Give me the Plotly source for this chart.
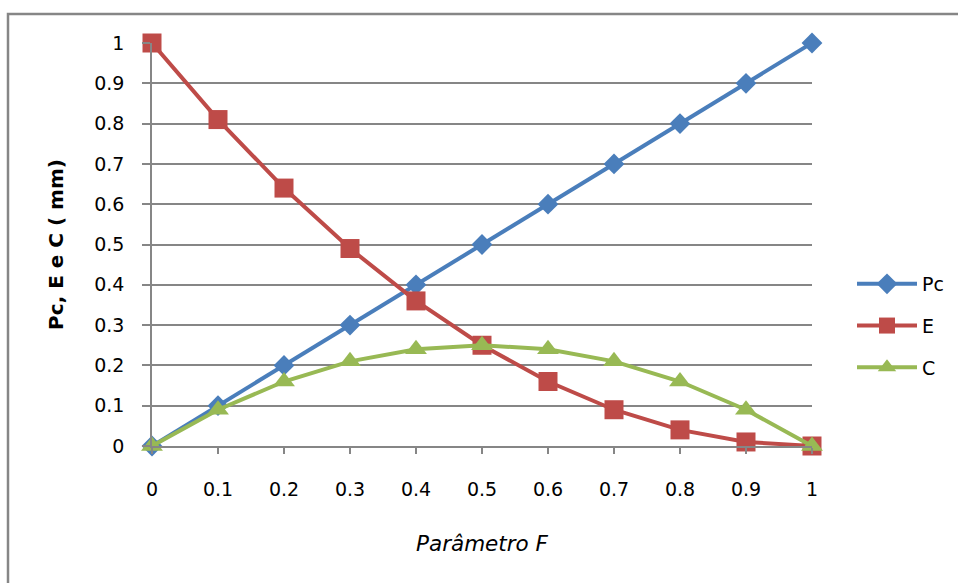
import plotly.graph_objects as go

# Parameter F and the three curves (mm)
f_values = [0, 0.1, 0.2, 0.3, 0.4, 0.5, 0.6, 0.7, 0.8, 0.9, 1]
pc_values = [0, 0.1, 0.2, 0.3, 0.4, 0.5, 0.6, 0.7, 0.8, 0.9, 1]
e_values = [1, 0.81, 0.64, 0.49, 0.36, 0.25, 0.16, 0.09, 0.04, 0.01, 0]
c_values = [0, 0.09, 0.16, 0.21, 0.24, 0.25, 0.24, 0.21, 0.16, 0.09, 0]

tick_vals = [0, 0.1, 0.2, 0.3, 0.4, 0.5, 0.6, 0.7, 0.8, 0.9, 1]
tick_text = ["0", "0.1", "0.2", "0.3", "0.4", "0.5", "0.6", "0.7", "0.8", "0.9", "1"]

FONT = "DejaVu Sans"
GRID = "#868686"
W, H = 958, 583

series = [
    ("Pc", pc_values, "#4A7EBB", "diamond", 16),
    ("E", e_values, "#BE4B48", "square", 19),
    ("C", c_values, "#98B954", "triangle-up", 19),
]

fig = go.Figure()
for name, vals, color, symbol, size in series:
    fig.add_trace(go.Scatter(
        x=f_values, y=vals, name=name, legendgroup=name,
        mode="lines+markers",
        line=dict(color=color, width=4),
        marker=dict(symbol=symbol, size=size, color=color, line=dict(width=0)),
        cliponaxis=False,
    ))

# plot area in pixels: x 152..812, y 43..446
def px(x):
    return (x - 152) / 660.0

def py(y):
    return (446 - y) / 403.0

fig.update_layout(
    width=W, height=H,
    margin=dict(l=152, r=146, t=43, b=137),
    paper_bgcolor="white", plot_bgcolor="white",
    font=dict(family=FONT, size=19, color="black"),
    showlegend=True,
    legend=dict(
        xref="container", yref="container",
        x=852 / W, y=1 - 265 / H, xanchor="left", yanchor="top",
        font=dict(family=FONT, size=19),
        itemwidth=60, traceorder="grouped", tracegroupgap=14,
        bgcolor="rgba(0,0,0,0)",
    ),
    xaxis=dict(
        range=[0, 1], tickvals=tick_vals, ticktext=tick_text,
        showgrid=False, zeroline=False,
        showline=True, linecolor=GRID, linewidth=1.5,
        ticks="outside", ticklen=6, tickcolor=GRID, tickwidth=1.5,
        ticklabelstandoff=19,
        title=dict(text="<i>Parâmetro F</i>", font=dict(family=FONT, size=21.5), standoff=37),
    ),
    yaxis=dict(
        range=[0, 1], tickvals=tick_vals, ticktext=tick_text,
        showgrid=True, gridcolor=GRID, gridwidth=1.5,
        zeroline=False,
        showline=True, linecolor=GRID, linewidth=1.5,
        ticks="outside", ticklen=8, tickcolor=GRID, tickwidth=1.5,
        ticklabelstandoff=14,
        title=dict(text="<b>Pc, E e C ( mm)</b>", font=dict(family=FONT, size=20), standoff=25),
    ),
    shapes=[dict(
        type="rect", xref="paper", yref="paper",
        x0=px(8), x1=px(962), y0=py(590), y1=py(14),
        line=dict(color=GRID, width=2.5), fillcolor="rgba(0,0,0,0)", layer="below",
    )],
)

fig.write_html("out.html")
